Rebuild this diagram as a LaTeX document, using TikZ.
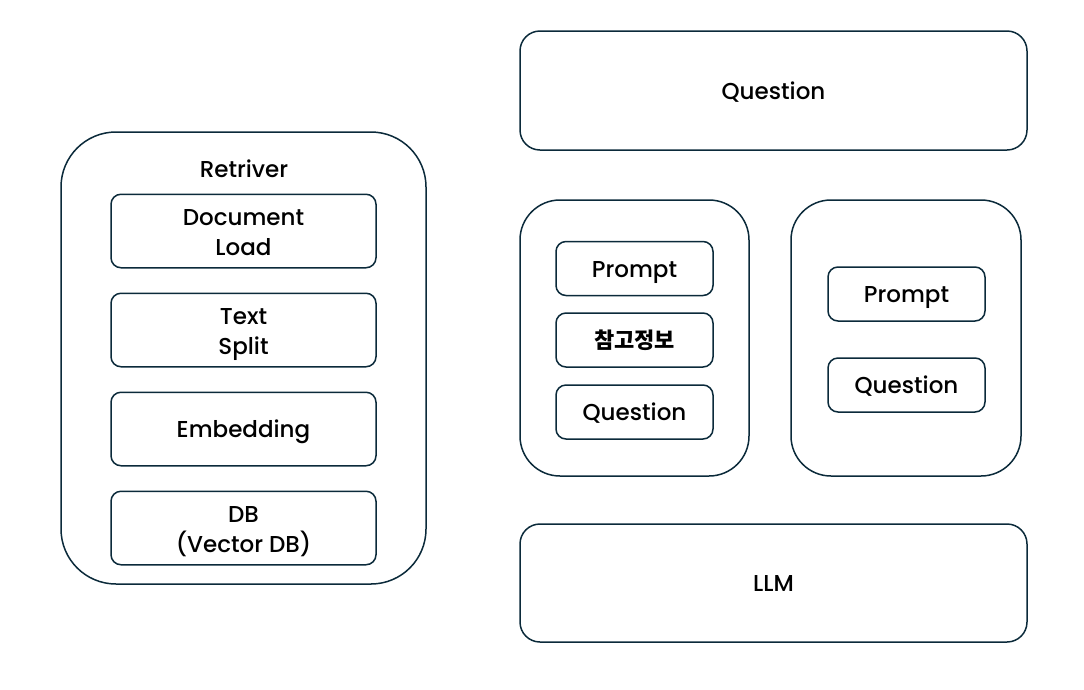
\documentclass[tikz,border=0pt]{standalone}
\usepackage{fontspec}
\setmainfont{Poppins}[UprightFont={* Medium}]
\newfontfamily\krfont{Noto Sans CJK KR}
\usetikzlibrary{positioning}

\definecolor{edgecol}{HTML}{0B2A3A}

\tikzset{
  box/.style={draw=edgecol, line width=1.5pt, rounded corners=#1, align=center,
    inner sep=0pt, font=\fontsize{23}{30}\selectfont, text height=20pt, text depth=3pt},
  box/.default=10pt,
  twolines/.style={text height=50pt, text depth=2pt},
  item/.style={box, minimum width=265pt, minimum height=73.5pt},
  smallitem/.style={box, minimum width=157pt, minimum height=54pt},
}

\begin{document}
\begin{tikzpicture}[x=1pt, y=-1pt, node distance=24pt]
  \useasboundingbox (0,0) rectangle (1084,689);

  % retriever side
  \node[box=55pt, minimum width=365pt, minimum height=452pt] (ret) at (243.5,358) {};
  \node[font=\fontsize{23}{28}\selectfont] (retlabel) at (244,169) {Retriver};
  \node[item, twolines] (load) at (243.5,231) {Document\\Load};
  \node[item, twolines] (split) [below=of load] {Text\\Split};
  \node[item] (embed) [below=of split] {Embedding};
  \node[item, twolines] (db) [below=of embed] {DB\\(Vector DB)};

  % llm side
  \node[box=20pt, minimum width=507pt, minimum height=119pt] (question) at (773.5,90.5) {Question};
  \node[box=40pt, minimum width=229pt, minimum height=276pt] (rag) at (634.5,338) {};
  \node[smallitem] (rprompt) at (634.5,268.5) {Prompt};
  \node[smallitem, font=\krfont\bfseries\fontsize{22}{26}\selectfont] (info) at (634.5,340) {참고정보};
  \node[smallitem] (rquestion) at (634.5,412) {Question};

  \node[box=40pt, minimum width=230pt, minimum height=276pt] (plain) at (906,338) {};
  \node[smallitem] (pprompt) at (906.5,294) {Prompt};
  \node[smallitem] (pquestion) at (906.5,385) {Question};

  \node[box=20pt, minimum width=507pt, minimum height=118pt] (llm) at (773.5,583) {LLM};
\end{tikzpicture}
\end{document}
